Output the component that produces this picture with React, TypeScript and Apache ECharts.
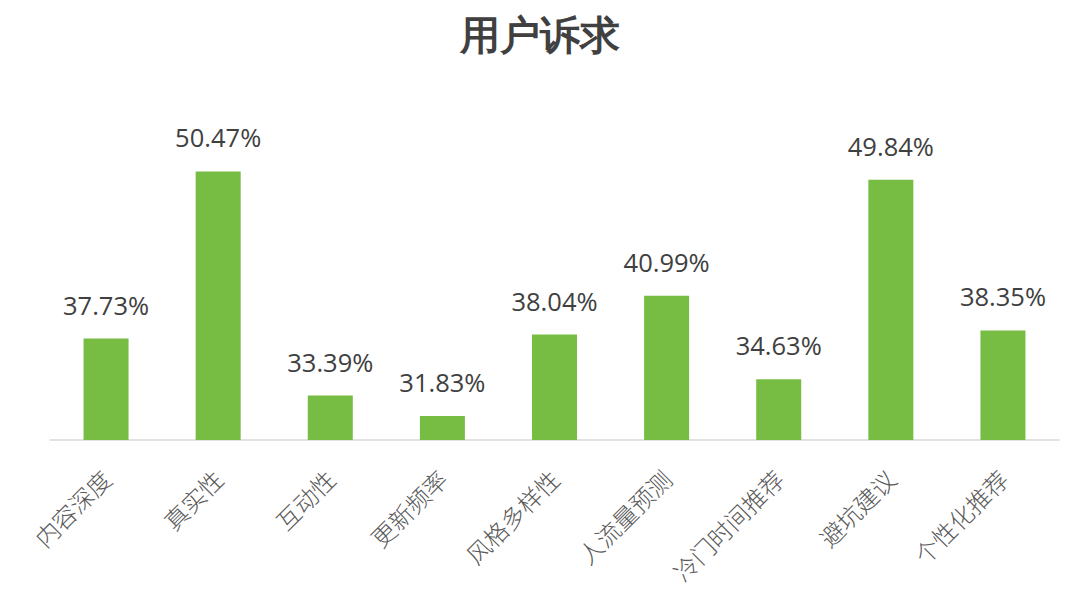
import React, { useEffect, useRef } from "react";
import * as echarts from "echarts";

const categories = ["内容深度", "真实性", "互动性", "更新频率", "风格多样性", "人流量预测", "冷门时间推荐", "避坑建议", "个性化推荐"];
const values = [37.73, 50.47, 33.39, 31.83, 38.04, 40.99, 34.63, 49.84, 38.35];
const titleText = "用户诉求";

export default function App() {
  const ref = useRef<HTMLDivElement>(null);
  useEffect(() => {
    document.body.style.margin = "0";
    const chart = echarts.init(ref.current!, null, { renderer: "svg" });
    chart.setOption({
      animation: false,
      backgroundColor: "#ffffff",
      title: {
        text: titleText,
        left: "center",
        top: 10,
        textStyle: { fontFamily: "serif", fontSize: 40, fontWeight: "bold", color: "#404040" },
      },
      grid: { left: 50, right: 21, top: 112, bottom: 153, containLabel: false },
      xAxis: {
        type: "category",
        data: categories,
        axisLine: { show: true, lineStyle: { color: "#d9d9d9", width: 1.5 } },
        axisTick: { show: false },
        axisLabel: {
          interval: 0,
          rotate: 45,
          margin: 34,
          fontFamily: "'Noto Sans CJK SC', serif",
          fontWeight: 300,
          fontSize: 24,
          color: "#595959",
        },
      },
      yAxis: {
        type: "value",
        min: 30,
        max: 55,
        show: false,
        splitLine: { show: false },
      },
      series: [
        {
          type: "bar",
          data: values,
          barWidth: 45,
          itemStyle: { color: "#77bc43" },
          label: {
            show: true,
            position: "top",
            distance: 21,
            formatter: (p: any) => p.value.toFixed(2) + "%",
            fontFamily: "'Open Sans', 'Noto Sans', sans-serif",
            fontSize: 25.5,
            color: "#404040",
          },
        },
      ],
    });
    return () => chart.dispose();
  }, []);
  return <div ref={ref} style={{ width: 1080, height: 593 }} />;
}
